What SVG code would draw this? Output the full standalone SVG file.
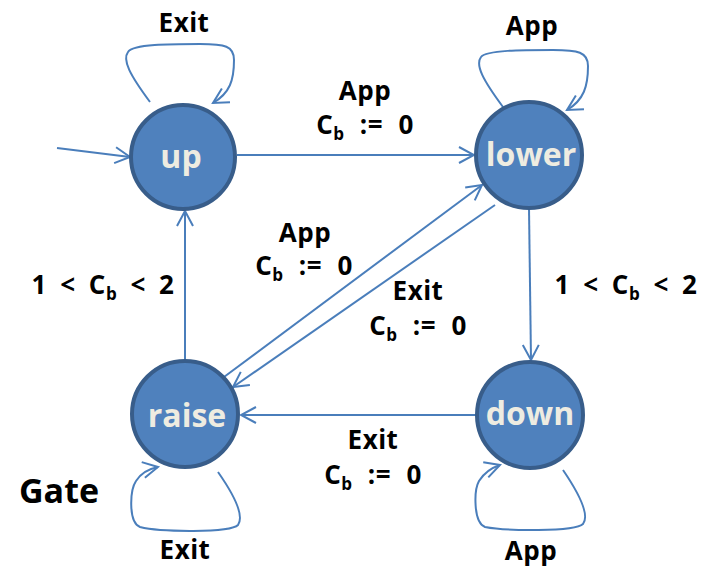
<svg xmlns="http://www.w3.org/2000/svg" width="708" height="568" viewBox="0 0 708 568">
  <style>
    .state circle { fill: #4f81bd; stroke: #385d8a; stroke-width: 4; }
    .state text { fill: #eeece1; font-family: "Open Sans", "Noto Sans", sans-serif; font-weight: bold; font-size: 32px; text-anchor: middle; }
    .edge { fill: none; stroke: #4a7ebb; stroke-width: 2; }
    .lbl { fill: #000; font-family: "Open Sans", "Noto Sans", sans-serif; font-weight: bold; font-size: 26px; letter-spacing: 0.5px; text-anchor: middle; }
    .eq { word-spacing: 8px; }
    .ineq { word-spacing: 6px; }
    .sub { font-size: 17px; }
  </style>
  <defs>
    <marker id="arrow" viewBox="-16 -10 18 20" refX="0" refY="0" markerWidth="18" markerHeight="20" markerUnits="userSpaceOnUse" orient="auto">
      <path d="M-15,-8 L0,0 L-15,8" fill="none" stroke="#4a7ebb" stroke-width="2"/>
    </marker>
  </defs>

  <!-- transitions -->
  <g id="connectors">
    <path class="edge" d="M57,148 L130,157" marker-end="url(#arrow)"/>
    <path class="edge" d="M237,155 L474,155" marker-end="url(#arrow)"/>
    <path class="edge" d="M185,360 L185,211" marker-end="url(#arrow)"/>
    <path class="edge" d="M529,208 L531,360" marker-end="url(#arrow)"/>
    <path class="edge" d="M476,415 L241,415" marker-end="url(#arrow)"/>
    <path class="edge" d="M224,377 L482,185" marker-end="url(#arrow)"/>
    <path class="edge" d="M495,205 L233,387" marker-end="url(#arrow)"/>
    <!-- self loops -->
    <path class="edge" d="M150,102 C130,75 122,60 128,52 C133,44 170,44 200,44 C225,44 234,46 234,60 C234,80 230,93 213,103" marker-end="url(#arrow)"/>
    <path class="edge" d="M503,107 C483,80 475,65 481,57 C486,50 523,50 553,50 C578,50 588,52 588,66 C588,86 584,100 567,110" marker-end="url(#arrow)"/>
    <path class="edge" d="M218,472 C232,492 245,515 238,525 C230,533 160,532 140,527 C128,522 130,490 136,481 C141,473 148,469 158,467" marker-end="url(#arrow)"/>
    <path class="edge" d="M563,470 C578,492 590,515 583,524 C575,532 505,531 485,527 C473,522 474,490 479,481 C484,473 491,468 500,465" marker-end="url(#arrow)"/>
  </g>

  <!-- states -->
  <g id="up" class="state">
    <circle cx="183" cy="157" r="52"/>
    <text x="181" y="168">up</text>
  </g>
  <g id="lower" class="state">
    <circle cx="529" cy="155" r="53"/>
    <text x="531" y="166">lower</text>
  </g>
  <g id="raise" class="state">
    <circle cx="185" cy="414" r="53"/>
    <text x="187" y="427">raise</text>
  </g>
  <g id="down" class="state">
    <circle cx="530" cy="415" r="53"/>
    <text x="530" y="425">down</text>
  </g>

  <!-- transition labels -->
  <g id="labels">
    <text class="lbl" x="184" y="32">Exit</text>
    <text class="lbl" x="532" y="35">App</text>
    <text class="lbl" x="365" y="100">App</text>
    <text class="lbl eq" x="365" y="134">C<tspan class="sub" dy="6">b</tspan><tspan dy="-6"> := 0</tspan></text>
    <text class="lbl" x="305" y="242">App</text>
    <text class="lbl eq" x="304" y="275">C<tspan class="sub" dy="6">b</tspan><tspan dy="-6"> := 0</tspan></text>
    <text class="lbl" x="418" y="300">Exit</text>
    <text class="lbl eq" x="418" y="335">C<tspan class="sub" dy="6">b</tspan><tspan dy="-6"> := 0</tspan></text>
    <text class="lbl ineq" x="103" y="294">1 &lt; C<tspan class="sub" dy="6">b</tspan><tspan dy="-6"> &lt; 2</tspan></text>
    <text class="lbl ineq" x="626" y="294">1 &lt; C<tspan class="sub" dy="6">b</tspan><tspan dy="-6"> &lt; 2</tspan></text>
    <text class="lbl" x="373" y="449">Exit</text>
    <text class="lbl eq" x="373" y="484">C<tspan class="sub" dy="6">b</tspan><tspan dy="-6"> := 0</tspan></text>
    <text class="lbl" x="185" y="559">Exit</text>
    <text class="lbl" x="531" y="560">App</text>
    <text class="lbl" x="59" y="503" style="font-size:34px;letter-spacing:0">Gate</text>
  </g>
</svg>
